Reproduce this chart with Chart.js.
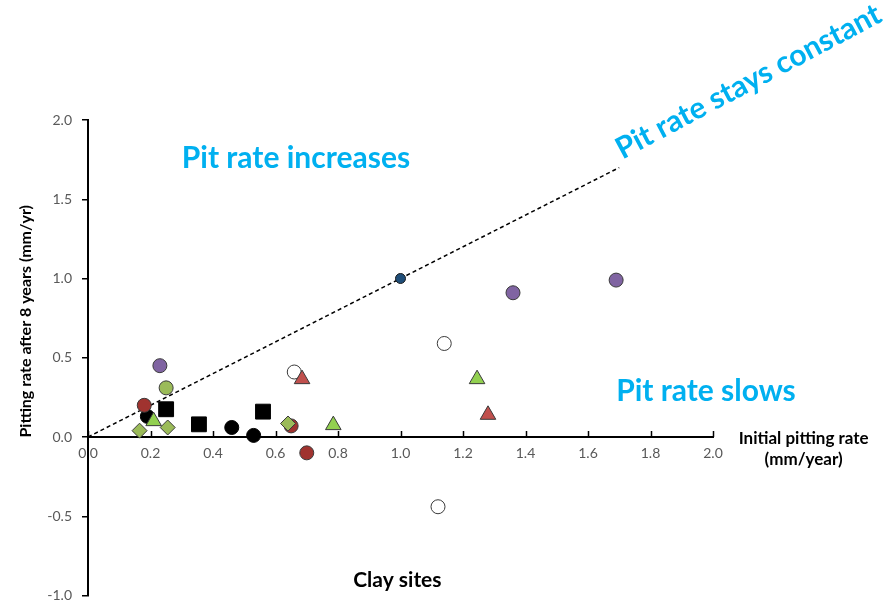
<!DOCTYPE html>
<html>
<head>
<meta charset="utf-8">
<title>Clay sites</title>
<script src="https://cdn.jsdelivr.net/npm/chart.js@4.4.0/dist/chart.umd.min.js"></script>
<style>
    html, body { margin: 0; background: #fff; overflow: hidden; }
    canvas { display: block; }
</style>
</head>
<body>
<!-- a few px taller than the window: the layout keeps ~12px under the plot anyway -->
<canvas id="myChart" width="893" height="607"></canvas>
<script>
// data (initial rate, rate after 8 years)
const purpleX = [0.23, 1.36, 1.69]
const purpleY = [0.45, 0.91, 0.99]
const lightGreenX = [0.25]
const lightGreenY = [0.31]
const redCircleX = [0.18, 0.65, 0.70]
const redCircleY = [0.20, 0.07, -0.10]
const blackCircleX = [0.19, 0.46, 0.53]
const blackCircleY = [0.13, 0.06, 0.01]
const squareX = [0.25, 0.355, 0.56]
const squareY = [0.175, 0.08, 0.16]
const whiteX = [0.66, 1.14, 1.12]
const whiteY = [0.41, 0.59, -0.44]
const redTriX = [0.685, 1.28]
const redTriY = [0.365, 0.14]
const greenTriX = [0.21, 0.785, 1.245]
const greenTriY = [0.10, 0.075, 0.365]
const diamondX = [0.165, 0.255, 0.64]
const diamondY = [0.04, 0.06, 0.085]
const blueX = [1.0]
const blueY = [1.0]
const lineX = [0, 1.7]
const lineY = [0, 1.7]

const xTicks = [0, 0.2, 0.4, 0.6, 0.8, 1.0, 1.2, 1.4, 1.6, 1.8, 2.0]
const yTicks = [-1.0, -0.5, 0, 0.5, 1.0, 1.5, 2.0]

function pts(xs, ys){
    return xs.map((v, i) => ({x: v, y: ys[i]}))
}

function marker(label, xs, ys, style, fill, r, border){
    return {
        label: label,
        data: pts(xs, ys),
        pointStyle: style,
        pointRadius: r,
        pointHoverRadius: r,
        backgroundColor: fill,
        borderColor: border || '#3a3a3a',
        borderWidth: 1,
        showLine: false
    }
}

// labels may overhang the plot area, don't let them shrink it
function noOverhang(s){
    s.paddingTop = 0
    s.paddingBottom = 0
    s.paddingLeft = 0
    s.paddingRight = 0
}

// text labels and upward x tick marks
const notes = {
    id: 'notes',
    afterDraw(chart){
        const ctx = chart.ctx
        const x = chart.scales.x
        const y = chart.scales.y
        const y0 = y.getPixelForValue(0)
        ctx.save()
        ctx.strokeStyle = '#000'
        ctx.lineWidth = 1.5
        x.ticks.forEach(t => {
            const px = Math.round(x.getPixelForValue(t.value)) + 0.5
            ctx.beginPath()
            ctx.moveTo(px, y0)
            ctx.lineTo(px, y0 - 6)
            ctx.stroke()
        })

        ctx.fillStyle = '#00B0F0'
        ctx.font = 'bold 30px Lato'
        ctx.textAlign = 'left'
        ctx.textBaseline = 'alphabetic'
        ctx.fillText('Pit rate increases', x.getPixelForValue(0.30), y.getPixelForValue(1.70))
        ctx.fillText('Pit rate slows', x.getPixelForValue(1.69), y.getPixelForValue(0.23))
        ctx.save()
        ctx.translate(x.getPixelForValue(1.71), y.getPixelForValue(1.75))
        ctx.rotate(-28 * Math.PI / 180)
        ctx.fillText('Pit rate stays constant', 0, 0)
        ctx.restore()

        ctx.fillStyle = '#000'
        ctx.textAlign = 'center'
        ctx.font = 'bold 17px Lato'
        ctx.fillText('Initial pitting rate', x.getPixelForValue(2.29), y0 + 7)
        ctx.fillText('(mm/year)', x.getPixelForValue(2.29), y0 + 28)
        ctx.font = 'bold 21px Lato'
        ctx.fillText('Clay sites', x.getPixelForValue(0.99), y.getPixelForValue(-0.945))

        ctx.font = 'bold 16px Lato'
        ctx.textBaseline = 'middle'
        ctx.translate(26, y.getPixelForValue(0.73))
        ctx.rotate(-Math.PI / 2)
        ctx.fillText('Pitting rate after 8 years (mm/yr)', 0, 0)
        ctx.restore()
    }
}

var ctx = document.getElementById('myChart').getContext('2d')
var myChart = new Chart(ctx, {
    type: 'scatter',
    data: {
        datasets: [
            marker('Diamonds', diamondX, diamondY, 'rectRot', '#9BBB59', 7.5),
            marker('Red triangles', redTriX, redTriY, 'triangle', '#C0504D', 9),
            marker('Green triangles', greenTriX, greenTriY, 'triangle', '#92D050', 9),
            marker('Red circles', redCircleX, redCircleY, 'circle', '#A0332F', 7),
            marker('Black circles', blackCircleX, blackCircleY, 'circle', '#000', 7, '#000'),
            marker('White circles', whiteX, whiteY, 'circle', '#fff', 7),
            marker('Squares', squareX, squareY, 'rect', '#000', 10.5, '#000'),
            marker('Purple circles', purpleX, purpleY, 'circle', '#8064A2', 7),
            marker('Green circle', lightGreenX, lightGreenY, 'circle', '#9BBB59', 7),
            marker('Blue', blueX, blueY, 'circle', '#1F4E79', 5, '#1a1a1a'),
            {
                label: 'Pit rate stays constant',
                data: pts(lineX, lineY),
                showLine: true,
                borderColor: '#000',
                borderWidth: 1.5,
                borderDash: [4, 3],
                pointRadius: 0,
                fill: false
            }
        ]
    },
    options: {
        responsive: false,
        animation: false,
        layout: {
            padding: {top: 120, right: 180, bottom: 8, left: 0}
        },
        plugins: {
            legend: {display: false},
            tooltip: {enabled: false}
        },
        scales: {
            x: {
                type: 'linear',
                min: 0,
                max: 2,
                position: {y: 0},
                afterFit: noOverhang,
                afterBuildTicks(s){
                    s.ticks = xTicks.map(v => ({value: v}))
                },
                ticks: {
                    padding: 8,
                    color: '#595959',
                    font: {family: 'Lato', size: 14},
                    maxRotation: 0,
                    callback: v => v.toFixed(1)
                },
                grid: {display: true, drawOnChartArea: false, drawTicks: false},
                border: {display: true, color: '#000', width: 2}
            },
            y: {
                type: 'linear',
                min: -1,
                max: 2,
                afterFit(s){
                    s.width = 88
                    noOverhang(s)
                },
                afterBuildTicks(s){
                    s.ticks = yTicks.map(v => ({value: v}))
                },
                ticks: {
                    padding: 10,
                    color: '#595959',
                    font: {family: 'Lato', size: 14},
                    callback: v => v.toFixed(1)
                },
                grid: {
                    display: true,
                    drawOnChartArea: false,
                    drawTicks: true,
                    tickLength: 6,
                    color: '#000',
                    lineWidth: 1.5
                },
                border: {display: true, color: '#000', width: 2}
            }
        }
    },
    plugins: [notes]
})
</script>
</body>
</html>
